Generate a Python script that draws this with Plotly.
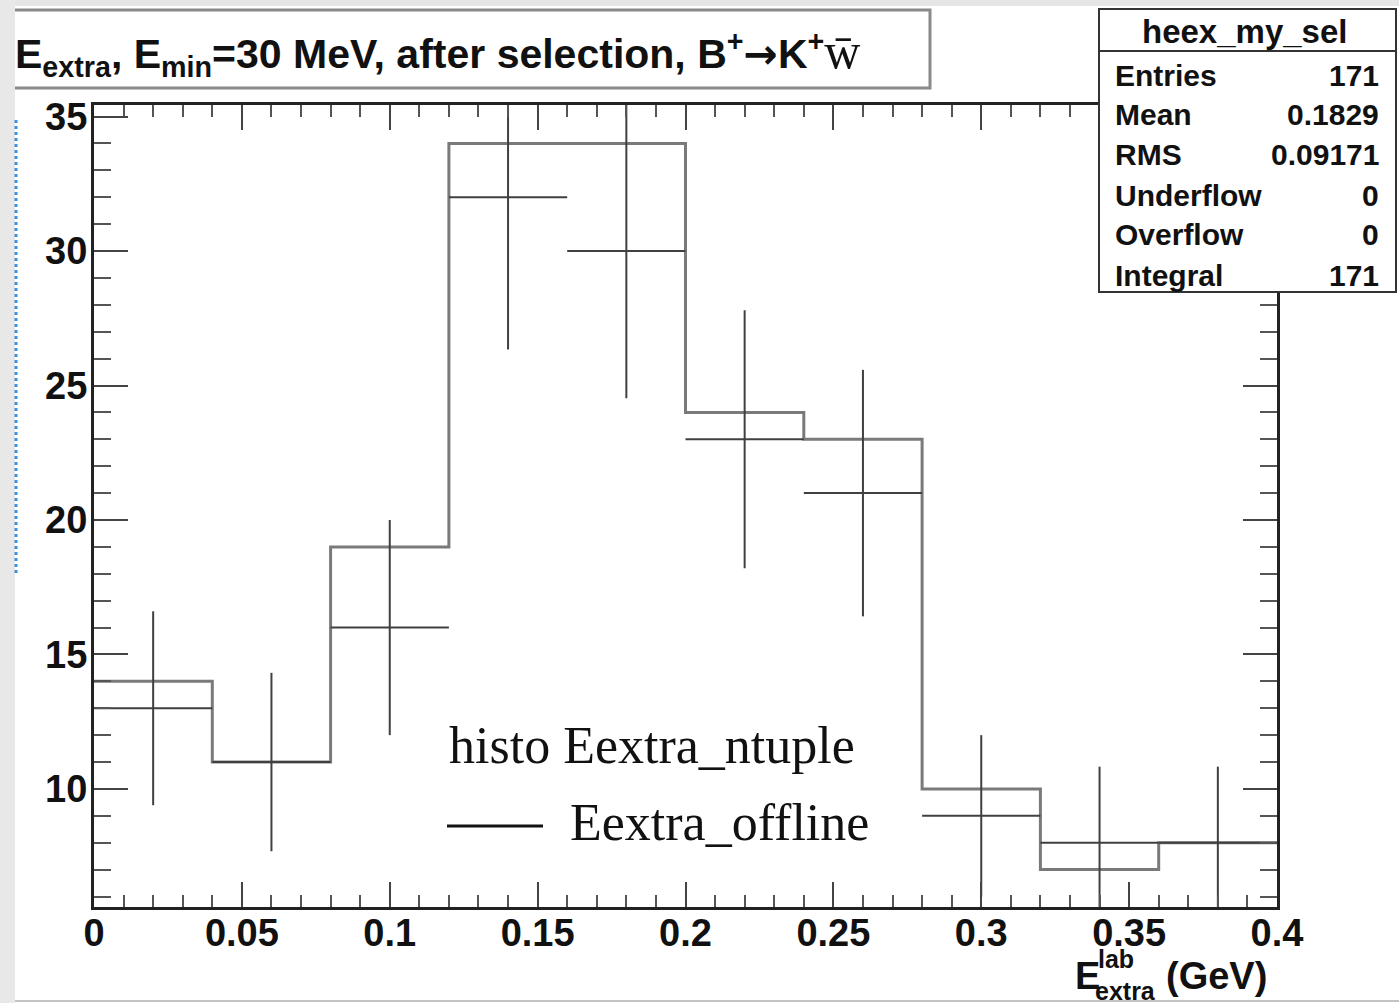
import numpy as np
import plotly.graph_objects as go

# ---- data ----
bin_edges = [0.0, 0.04, 0.08, 0.12, 0.16, 0.20, 0.24, 0.28, 0.32, 0.36, 0.40]
ntuple_counts = [14, 11, 19, 34, 34, 24, 23, 10, 7, 8]      # step histogram (histo Eextra_ntuple)
offline_counts = [13, 11, 16, 32, 30, 23, 21, 9, 8, 8]      # points with errors (Eextra_offline)
stats_labels = ["Entries", "Mean", "RMS", "Underflow", "Overflow", "Integral"]
stats_values = ["171", "0.1829", "0.09171", "0", "0", "171"]
x_tick_vals = [0, 0.05, 0.1, 0.15, 0.2, 0.25, 0.3, 0.35, 0.4]
x_tick_text = ["0", "0.05", "0.1", "0.15", "0.2", "0.25", "0.3", "0.35", "0.4"]
y_tick_vals = [10, 15, 20, 25, 30, 35]

edges = np.array(bin_edges)
centers = (edges[:-1] + edges[1:]) / 2
half_w = (edges[1:] - edges[:-1]) / 2
errs = np.sqrt(np.array(offline_counts, dtype=float))

W, H = 1399, 1003
L, R, T, B = 94, 1277, 105, 907


def px(x):
    return (x - L) / (R - L)


def py(y):
    return (B - y) / (B - T)


fig = go.Figure()
fig.add_trace(go.Scatter(
    x=list(edges), y=ntuple_counts + [ntuple_counts[-1]],
    mode="lines", line=dict(shape="hv", color="#7a7a7a", width=3),
    showlegend=False, hoverinfo="skip"))
fig.add_trace(go.Scatter(
    x=centers, y=offline_counts, mode="markers",
    marker=dict(size=1, color="#404040"),
    error_y=dict(type="data", array=errs, width=0, thickness=2, color="#404040"),
    error_x=dict(type="data", array=half_w, width=0, thickness=2, color="#404040"),
    showlegend=False))

tickfont = dict(family="Liberation Sans", size=38, color="#111", weight="bold")
fig.update_xaxes(range=[0, 0.4], tickvals=x_tick_vals, ticktext=x_tick_text,
                 ticks="inside", ticklen=25, tickwidth=2, tickcolor="#444",
                 showline=True, linecolor="#222", linewidth=3, mirror="allticks",
                 showgrid=False, zeroline=False, tickfont=tickfont, ticklabelstandoff=-10,
                 minor=dict(ticks="inside", dtick=0.01, tick0=0, ticklen=12,
                            tickwidth=2, tickcolor="#555", showgrid=False))
fig.update_yaxes(range=[5.61, 35.43], tickvals=y_tick_vals,
                 ticks="inside", ticklen=34, tickwidth=2, tickcolor="#444",
                 showline=True, linecolor="#222", linewidth=3, mirror="allticks",
                 showgrid=False, zeroline=False, tickfont=tickfont, ticklabelstandoff=-4,
                 minor=dict(ticks="inside", dtick=1, tick0=0, ticklen=17,
                            tickwidth=2, tickcolor="#555", showgrid=False))

shapes = []
annotations = []
# page decorations
shapes.append(dict(type="rect", xref="paper", yref="paper", x0=px(0), x1=px(W), y0=py(0), y1=py(6),
                   fillcolor="#e6e6e6", line=dict(width=0), layer="above"))
shapes.append(dict(type="line", xref="paper", yref="paper", x0=px(0), x1=px(W), y0=py(1001), y1=py(1001),
                   line=dict(color="#c4c4c4", width=2), layer="above"))
# title box
shapes.append(dict(type="rect", xref="paper", yref="paper", x0=px(-10), x1=px(930), y0=py(10), y1=py(88),
                   fillcolor="white", line=dict(color="#8a8a8a", width=3), layer="above"))
# left strip
shapes.append(dict(type="rect", xref="paper", yref="paper", x0=px(0), x1=px(15), y0=py(0), y1=py(H),
                   fillcolor="#e8e8e8", line=dict(width=0), layer="above"))
shapes.append(dict(type="line", xref="paper", yref="paper", x0=px(16), x1=px(16), y0=py(120), y1=py(575),
                   line=dict(color="#3d8fdc", width=3, dash="dot"), layer="above"))
# stats box
shapes.append(dict(type="rect", xref="paper", yref="paper", x0=px(1099), x1=px(1396), y0=py(9), y1=py(292),
                   fillcolor="white", line=dict(color="#333", width=2), layer="above"))
shapes.append(dict(type="line", xref="paper", yref="paper", x0=px(1099), x1=px(1396), y0=py(51), y1=py(51),
                   line=dict(color="#333", width=2), layer="above"))
# legend line
shapes.append(dict(type="line", xref="paper", yref="paper", x0=px(447), x1=px(543), y0=py(826), y1=py(826),
                   line=dict(color="#111", width=3), layer="above"))


def ann(text, x, y, size, xanchor="left", family="Liberation Sans", weight="bold", yanchor="middle"):
    annotations.append(dict(text=text, xref="paper", yref="paper", x=px(x), y=py(y),
                            xanchor=xanchor, yanchor=yanchor, showarrow=False,
                            font=dict(family=family, size=size, color="#111", weight=weight)))


ann("E<sub>extra</sub>, E<sub>min</sub>=30 MeV, after selection, B<sup>+</sup>"
    "<span style='font-family:DejaVu Sans'>→</span>K<sup>+</sup>"
    "<span style='font-family:Liberation Serif;font-weight:normal;font-size:50px'>w̄</span>", 13, 53, 41)
ann("heex_my_sel", 1245, 31, 33, xanchor="center")
row_y = [75, 114, 154, 195, 234, 275]
for lab, val, yy in zip(stats_labels, stats_values, row_y):
    ann(lab, 1113, yy, 30)
    ann(val, 1381, yy, 30, xanchor="right")

ann("histo Eextra_ntuple", 447, 745, 52, family="Liberation Serif", weight="normal")
ann("Eextra_offline", 568, 822, 52, family="Liberation Serif", weight="normal")

ann("E", 1073, 976, 38)
ann("lab", 1096, 959, 25)
ann("extra", 1093, 991, 25)
ann("(GeV)", 1269, 976, 38, xanchor="right")

fig.update_layout(width=W, height=H, margin=dict(l=L, r=W - R, t=T, b=H - B),
                  paper_bgcolor="white", plot_bgcolor="white",
                  shapes=shapes, annotations=annotations, showlegend=False)
fig.write_html("out.html")
